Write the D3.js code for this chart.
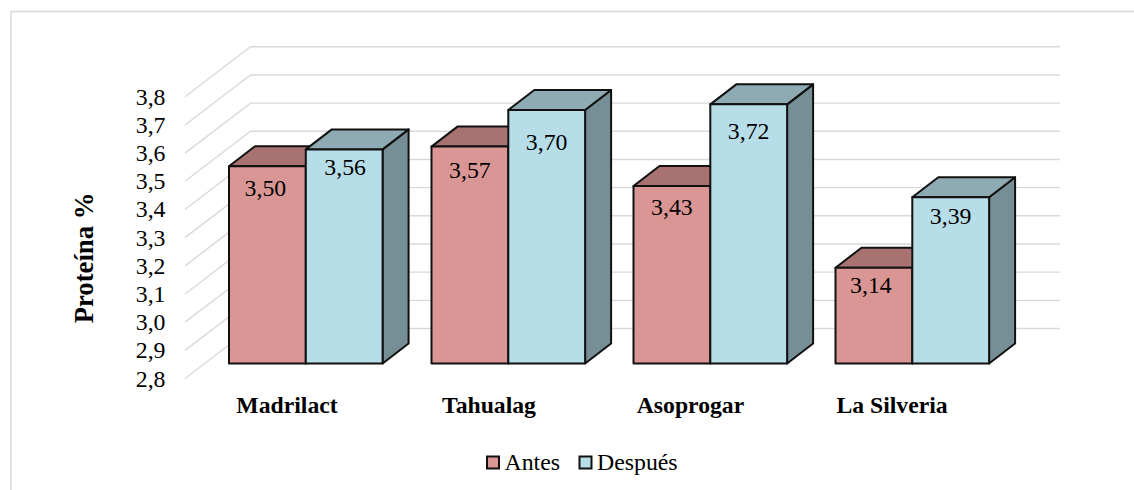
<!DOCTYPE html>
<html><head><meta charset="utf-8">
<script src="https://cdn.jsdelivr.net/npm/d3@7"></script>
<style>html,body{margin:0;padding:0;background:#fff}svg{display:block}text{font-family:"Liberation Serif",serif;fill:#000}</style>
</head><body><svg id="c" width="1134" height="490"></svg>
<script>
const categories=["Madrilact","Tahualag","Asoprogar","La Silveria"];
const seriesNames=["Antes","Después"];
const antes=[3.50,3.57,3.43,3.14];
const despues=[3.56,3.70,3.72,3.39];
const ticks=[2.8,2.9,3.0,3.1,3.2,3.3,3.4,3.5,3.6,3.7,3.8];
const colors={front:["#d99694","#b7dee8"],top:["#a87270","#8eaab2"],side:["#a87270","#768e95"]};
const fmt=(v,d)=>v.toFixed(d).replace(".",",");

const svg=d3.select("#c");
svg.append("path").attr("d","M11,490V11.5H1134").attr("fill","none").attr("stroke","#d9d9d9").attr("stroke-width",1.5);

const dx=66,dy=50,bdx=26,bdy=20;
const y=d3.scaleLinear().domain([2.8,3.8]).range([378.5,96.8]);
const barY=v=>y(v)-15;
svg.append("g").selectAll("path").data(ticks).join("path").attr("fill","none").attr("stroke","#d9d9d9").attr("stroke-width",1.4)
 .attr("d",d=>`M185,${y(d)}L${185+dx-.5},${y(d)-dy}H1060`);

svg.append("g").selectAll("text").data(ticks).join("text")
 .attr("x",165.5).attr("y",d=>y(d)+8).attr("text-anchor","end").attr("font-size",23.8).text(d=>fmt(d,1));

const barW=76.8, starts=[229,431.5,633.5,835.5];
const xCat=d3.scaleOrdinal().domain(categories).range(starts);
const base=barY(2.8);
categories.forEach((c,i)=>{
  [antes[i],despues[i]].forEach((v,s)=>{
    const l=xCat(c)+s*barW,r=l+barW,t=barY(v);
    const bar=svg.append("g").attr("stroke","#111").attr("stroke-width",2).attr("stroke-linejoin","round");
    bar.append("path").attr("fill",colors.side[s]).attr("d",`M${r},${t}L${r+bdx},${t-bdy}V${base-bdy}L${r},${base}Z`);
    bar.append("path").attr("fill",colors.top[s]).attr("d",`M${l},${t}L${l+bdx},${t-bdy}H${r+bdx}L${r},${t}Z`);
    bar.append("rect").attr("fill",colors.front[s]).attr("x",l).attr("y",t).attr("width",barW).attr("height",base-t);
  });
});
const labelDy=[[30,31,29,25],[25.5,40.5,34.5,27]];
const labelDx=[[-2,0,0,-3],[1,0,0,0]];
categories.forEach((c,i)=>{
  [antes[i],despues[i]].forEach((v,s)=>{
    const l=xCat(c)+s*barW;
    svg.append("text").attr("x",l+barW/2+labelDx[s][i]).attr("y",barY(v)+labelDy[s][i]).attr("text-anchor","middle").attr("font-size",23.8).text(fmt(v,2));
  });
});
const catX=[287,489,690.5,892];
svg.append("g").selectAll("text").data(categories).join("text").attr("x",(d,i)=>catX[i]).attr("y",413).attr("text-anchor","middle").attr("font-size",23.7).attr("font-weight","bold").text(d=>d);
svg.append("text").attr("transform","translate(92.5,258) rotate(-90)").attr("text-anchor","middle").attr("font-size",26.7).attr("font-weight","bold").text("Proteína %");

const lx=[487,579.5];
seriesNames.forEach((n,i)=>{
  svg.append("rect").attr("x",lx[i]).attr("y",456.5).attr("width",12).attr("height",12).attr("fill",colors.front[i]).attr("stroke","#111").attr("stroke-width",2);
  svg.append("text").attr("x",lx[i]+17.5).attr("y",470).attr("font-size",23.8).text(n);
});
</script></body></html>
